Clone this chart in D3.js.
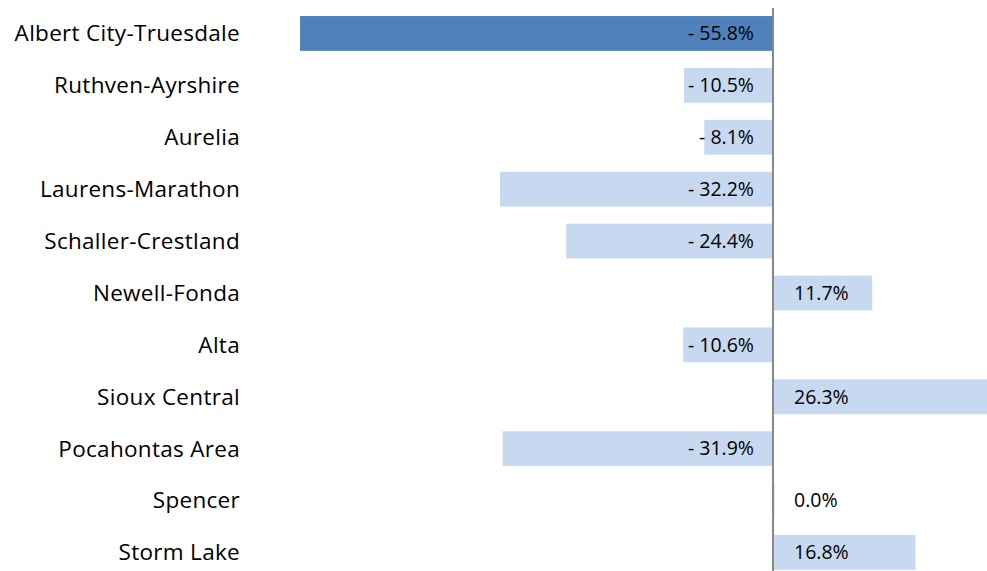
<!DOCTYPE html>
<html>
<head>
<meta charset="utf-8">
<script src="https://cdn.jsdelivr.net/npm/d3@7"></script>
<style>
    body { margin: 0; background: #fff; }
    svg text { font-family: 'Open Sans', Lato, sans-serif; fill: #000; }
</style>
</head>
<body>
<svg id="chart" width="987" height="571"></svg>
<script>
const districts = [
    'Albert City-Truesdale', 'Ruthven-Ayrshire', 'Aurelia', 'Laurens-Marathon',
    'Schaller-Crestland', 'Newell-Fonda', 'Alta', 'Sioux Central',
    'Pocahontas Area', 'Spencer', 'Storm Lake'
]
const changes = [-55.8, -10.5, -8.1, -32.2, -24.4, 11.7, -10.6, 26.3, -31.9, 0.0, 16.8]
const highlighted = ['Albert City-Truesdale']

const rows = districts.map((name, i) => ({ name, value: changes[i] }))

const svg = d3.select('#chart')
const zeroX = 773

// 55.8% spans roughly 472px to the left of the zero line
const x = d3.scaleLinear()
    .domain([-55.8, 0])
    .range([300, zeroX])

const y = d3.scaleBand()
    .domain(districts)
    .range([16 - 8.5, 16 - 8.5 + 51.9 * districts.length])
    .paddingInner(0.33)
    .paddingOuter(0.165)

const fmt = v => (v < 0 ? '- ' : '') + Math.abs(v).toFixed(1) + '%'

svg.selectAll('rect.bar')
    .data(rows)
    .join('rect')
    .attr('class', 'bar')
    .attr('x', d => Math.min(x(d.value), x(0)))
    .attr('y', d => y(d.name))
    .attr('width', d => Math.max(Math.abs(x(d.value) - x(0)), d.value === 0 ? 1.5 : 0))
    .attr('height', y.bandwidth())
    .attr('fill', d => highlighted.includes(d.name) ? '#4f81bd' : '#c6d9f1')

// zero line
svg.append('line')
    .attr('x1', x(0)).attr('x2', x(0))
    .attr('y1', 8).attr('y2', 571)
    .attr('stroke', '#888')
    .attr('stroke-width', 2)

svg.selectAll('text.cat')
    .data(rows)
    .join('text')
    .attr('class', 'cat')
    .attr('x', 240)
    .attr('y', d => y(d.name) + y.bandwidth() / 2)
    .attr('dy', '0.35em')
    .attr('text-anchor', 'end')
    .attr('font-size', 22.5)
    .attr('letter-spacing', 0.3)
    .text(d => d.name)

svg.selectAll('text.val')
    .data(rows)
    .join('text')
    .attr('class', 'val')
    .attr('x', d => d.value < 0 ? x(0) - 19 : x(0) + 21)
    .attr('y', d => y(d.name) + y.bandwidth() / 2)
    .attr('dy', '0.35em')
    .attr('text-anchor', d => d.value < 0 ? 'end' : 'start')
    .attr('font-size', 19.5)
    .text(d => fmt(d.value))
</script>
</body>
</html>
